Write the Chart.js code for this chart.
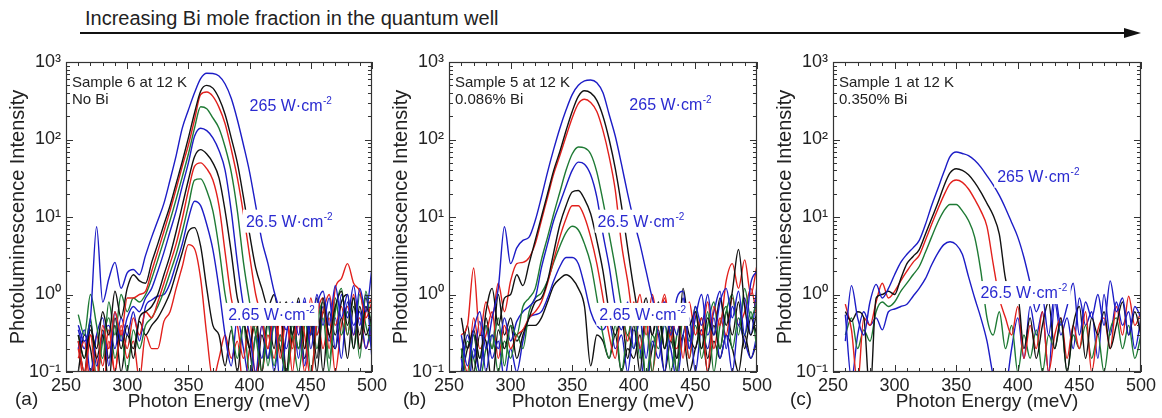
<!DOCTYPE html>
<html>
<head>
<meta charset="utf-8">
<script src="https://cdn.jsdelivr.net/npm/chart.js@4.4.0/dist/chart.umd.min.js"></script>
<style>
  html, body { margin: 0; padding: 0; background: #fff; }
  body { width: 1162px; height: 418px; position: relative; overflow: hidden; }
  canvas.panel { position: absolute; top: 40px; }
  #head { position: absolute; left: 0; top: 0; }
</style>
</head>
<body>
<svg id="head" width="1162" height="40">
  <text x="85" y="25" font-size="20" fill="#222" font-family="Liberation Sans, Arial, sans-serif">Increasing Bi mole fraction in the quantum well</text>
  <line x1="80" y1="33" x2="1128" y2="33" stroke="#111" stroke-width="2"/>
  <polygon points="1124,28 1141,33 1124,38" fill="#111"/>
</svg>
<canvas id="chartA" class="panel" style="left:0px" width="390" height="378"></canvas>
<canvas id="chartB" class="panel" style="left:383px" width="392" height="378"></canvas>
<canvas id="chartC" class="panel" style="left:767px" width="392" height="378"></canvas>
<script>
// photon energy grid (meV), shared by all spectra
const energy = [260, 265, 270, 275, 280, 285, 290, 295, 300, 305, 310, 315,
  320, 325, 330, 335, 340, 345, 350, 355, 360, 365, 370, 375,
  380, 385, 390, 395, 400, 405, 410, 415, 420, 425, 430, 435,
  440, 445, 450, 455, 460, 465, 470, 475, 480, 485, 490, 495, 500];

const yTickValues = [0.1, 1, 10, 100, 1000];
const yTickLabels = ['10⁻¹', '10⁰', '10¹', '10²', '10³'];

// (a) sample 6, no Bi - highest power first (blue, black, red, green, ...)
const a1 = [0.4, 0.25, 0.5, 7.5, 0.8, 1.6, 2.6, 1.2, 1.9, 2.1, 1.8, 3.2,
  5.5, 9, 15, 30, 62, 140, 240, 400, 610, 715, 710, 660,
  520, 340, 180, 85, 38, 14, 5, 2.5, 1.1, 0.6, 0.35, 0.8,
  0.3, 0.9, 0.2, 0.7, 1.1, 0.4, 1.3, 0.5, 1.0, 0.3, 1.2, 0.6, 2.2];
const a2 = [0.3, 0.15, 0.35, 0.2, 0.6, 0.3, 1.1, 0.5, 1.2, 1.8, 1.5, 1.4,
  2.6, 4.5, 8, 14, 27, 52, 105, 220, 420, 500, 460, 340,
  210, 105, 50, 18, 6, 2.2, 1.2, 0.7, 1.0, 0.5, 0.8, 0.3,
  0.9, 0.2, 0.6, 0.15, 0.9, 0.3, 0.7, 1.1, 0.4, 0.9, 0.2, 0.7, 0.4];
const a3 = [0.25, 0.1, 0.3, 0.07, 0.4, 0.2, 0.6, 0.3, 0.9, 0.9, 1.0, 1.1,
  2.0, 3.6, 6.5, 12, 23, 45, 85, 180, 380, 410, 360, 260,
  160, 75, 32, 11, 3.2, 1.0, 0.5, 0.2, 0.6, 0.15, 0.5, 0.2,
  0.7, 0.3, 0.08, 0.5, 0.9, 0.2, 1.2, 1.6, 2.5, 1.4, 1.1, 0.5, 0.8];
const a4 = [0.55, 0.3, 1.0, 0.4, 0.15, 0.8, 0.3, 1.0, 0.6, 0.9, 0.8, 1.0,
  1.6, 2.8, 5, 9, 17, 33, 65, 140, 265, 250, 190, 140,
  80, 38, 12, 2.6, 0.8, 0.3, 0.1, 0.4, 0.12, 0.3, 0.07, 0.4,
  0.2, 0.6, 0.1, 0.4, 0.8, 0.15, 0.6, 1.2, 0.3, 0.9, 0.15, 1.1, 0.3];
const a5 = [0.2, 0.35, 0.1, 0.3, 0.5, 0.12, 0.6, 0.25, 0.5, 0.7, 0.6, 0.9,
  1.2, 2.0, 3.5, 6.5, 12, 25, 50, 110, 140, 130, 105, 72,
  40, 12, 2.6, 0.7, 0.3, 0.1, 0.4, 0.15, 0.5, 0.07, 0.3, 0.6,
  0.15, 0.8, 0.3, 1.0, 0.4, 0.9, 0.2, 1.0, 0.5, 1.3, 0.4, 1.0, 0.15];
const a6 = [0.25, 0.1, 0.4, 0.15, 0.3, 0.07, 0.5, 0.2, 0.4, 0.15, 0.5, 0.6,
  0.7, 1.0, 1.8, 3.2, 6.5, 14, 30, 60, 74, 65, 50, 32,
  12, 3.5, 0.9, 0.5, 0.2, 0.6, 0.1, 0.5, 0.2, 0.8, 0.1, 0.5,
  0.2, 0.7, 0.3, 0.9, 0.1, 0.6, 0.3, 0.8, 1.0, 0.2, 0.7, 0.3, 0.5];
const a7 = [0.15, 0.25, 0.07, 0.3, 0.12, 0.35, 0.1, 0.4, 0.2, 0.5, 0.3, 0.6,
  0.5, 0.8, 1.4, 2.5, 4.5, 9.5, 22, 45, 50, 42, 30, 14,
  3.5, 0.9, 0.4, 0.15, 0.5, 0.08, 0.4, 0.2, 0.7, 0.25, 0.6, 0.1,
  0.5, 0.2, 0.9, 0.3, 0.6, 1.0, 0.4, 0.7, 0.3, 1.0, 0.2, 0.6, 0.9];
const a8 = [0.3, 0.15, 0.5, 0.08, 0.25, 0.5, 0.15, 0.3, 0.1, 0.35, 0.2, 0.4,
  0.5, 0.7, 1.1, 1.9, 3.3, 6.5, 14, 30, 31, 22, 12, 4,
  1.0, 0.4, 0.15, 0.4, 0.1, 0.3, 0.6, 0.12, 0.4, 0.2, 0.5, 0.3,
  0.1, 0.4, 0.7, 0.2, 0.5, 0.1, 0.9, 0.3, 0.6, 0.2, 1.0, 0.4, 0.2];
const a9 = [0.35, 0.2, 0.45, 0.12, 0.3, 0.4, 0.2, 0.5, 0.3, 0.6, 0.25, 0.7,
  0.85, 0.95, 1.0, 1.4, 2.5, 4.5, 9.5, 16, 14, 8, 3.8, 1.2,
  0.3, 0.12, 0.5, 0.2, 0.08, 0.3, 0.15, 0.45, 0.1, 0.3, 0.2, 0.5,
  0.8, 0.12, 0.5, 0.3, 0.7, 0.25, 0.5, 0.15, 0.8, 0.4, 0.6, 0.2, 0.5];
const a10 = [0.1, 0.3, 0.2, 0.06, 0.35, 0.15, 0.4, 0.1, 0.3, 0.2, 0.45, 0.3,
  0.4, 0.5, 0.7, 1.05, 1.9, 3.5, 6.5, 7.3, 4.2, 1.2, 0.4, 0.3,
  0.12, 0.35, 0.1, 0.4, 0.2, 0.06, 0.3, 0.15, 0.4, 0.2, 0.1, 0.3,
  0.5, 0.15, 0.4, 0.1, 0.6, 0.3, 0.2, 0.5, 0.15, 0.7, 0.3, 0.9, 0.3];
const a11 = [0.2, 0.08, 0.3, 0.15, 0.05, 0.25, 0.1, 0.35, 0.15, 0.25, 0.08, 0.3,
  0.2, 0.2, 0.45, 0.6, 1.2, 2.3, 4.4, 3.9, 1.6, 0.3, 0.08, 0.15,
  0.3, 0.15, 0.25, 0.06, 0.2, 0.4, 0.1, 0.3, 0.15, 0.5, 0.1, 0.25,
  0.4, 0.1, 0.35, 0.6, 0.2, 0.5, 0.1, 0.4, 0.7, 0.3, 0.5, 0.2, 0.4];

// (b) sample 5, 0.086% Bi
const b1 = [0.3, 0.12, 0.35, 0.6, 0.2, 0.5, 1.2, 7.5, 2.5, 4, 5, 5.5,
  9, 18, 38, 75, 140, 240, 380, 500, 570, 586, 540, 400,
  210, 110, 48, 20, 9, 4.5, 2.0, 0.9, 0.5, 0.8, 0.3, 0.9,
  1.1, 0.2, 0.7, 0.4, 1.0, 0.3, 0.8, 1.2, 0.5, 1.1, 0.3, 1.4, 2.0];
const b2 = [0.5, 0.2, 0.35, 0.15, 0.6, 1.2, 0.4, 0.9, 1.0, 1.8, 1.3, 2.5,
  5, 10, 20, 40, 70, 130, 230, 360, 425, 400, 320, 200,
  100, 42, 14, 4, 1.2, 0.5, 0.9, 0.3, 0.6, 0.2, 0.5, 0.15,
  1.2, 0.4, 0.6, 0.2, 0.5, 0.3, 0.9, 0.4, 1.1, 3.8, 0.7, 0.3, 0.6];
const b3 = [0.3, 0.4, 2.2, 0.3, 0.8, 0.5, 1.4, 0.6, 1.5, 2.5, 2.6, 3.0,
  4.5, 9, 18, 36, 62, 110, 190, 290, 330, 300, 230, 130,
  60, 22, 4.5, 1.5, 0.5, 1.0, 0.3, 1.0, 0.4, 0.9, 0.25, 0.6,
  0.15, 0.8, 0.3, 0.5, 0.1, 0.7, 0.4, 1.5, 2.5, 1.2, 2.8, 1.0, 2.4];
const b4 = [0.2, 0.08, 0.3, 0.15, 0.4, 0.2, 0.5, 0.12, 0.4, 0.3, 0.7, 0.9,
  1.2, 2.8, 5.5, 11, 21, 40, 65, 80, 78, 65, 38, 16,
  6, 2.2, 0.7, 0.3, 0.6, 0.15, 0.4, 0.1, 0.5, 0.2, 0.35, 0.1,
  0.5, 0.25, 0.7, 0.15, 0.4, 0.8, 0.2, 0.6, 1.0, 0.3, 1.2, 0.5, 0.8];
const b5 = [0.1, 0.3, 0.15, 0.45, 0.1, 0.3, 0.2, 0.5, 0.25, 0.45, 0.6, 0.7,
  0.9, 2.2, 4.5, 9, 15, 25, 40, 51, 48, 35, 18, 6,
  2.3, 0.7, 0.35, 0.8, 0.2, 0.5, 0.15, 0.6, 0.3, 0.1, 0.5, 0.3,
  0.9, 0.2, 0.5, 1.0, 0.3, 0.6, 1.1, 0.2, 0.7, 0.4, 0.9, 0.3, 1.3];
const b6 = [0.15, 0.4, 0.1, 0.3, 0.25, 0.07, 0.35, 0.2, 0.4, 0.15, 0.3, 0.5,
  0.8, 0.9, 1.5, 3.5, 8, 14, 21, 22, 17, 11, 5, 2,
  0.6, 0.3, 0.5, 0.15, 0.4, 0.1, 0.6, 0.3, 0.8, 0.2, 0.4, 0.1,
  0.6, 0.3, 0.2, 0.5, 0.15, 0.4, 0.2, 0.6, 0.3, 0.8, 0.2, 0.5, 0.3];
const b7 = [0.2, 0.1, 0.5, 0.2, 0.3, 0.6, 0.15, 0.4, 0.2, 0.3, 0.35, 0.5,
  0.6, 0.8, 1.4, 2.8, 5.5, 9.5, 14, 14, 10, 5.5, 2.5, 0.9,
  0.3, 0.15, 0.6, 0.25, 0.8, 0.2, 0.5, 0.1, 0.4, 1.0, 0.3, 0.2,
  0.5, 0.15, 0.6, 0.3, 0.8, 0.2, 0.5, 0.3, 0.9, 0.4, 0.6, 1.2, 0.5];
const b8 = [0.1, 0.25, 0.15, 0.08, 0.2, 0.3, 0.1, 0.25, 0.15, 0.3, 0.2, 0.6,
  0.9, 1.05, 1.5, 2.6, 4.2, 6.3, 7.6, 6.8, 4.5, 2.5, 0.9, 0.3,
  0.15, 0.4, 0.1, 0.3, 0.2, 0.5, 0.08, 0.3, 0.2, 0.45, 0.1, 0.3,
  0.5, 0.15, 0.4, 0.2, 0.6, 0.1, 0.4, 0.7, 0.2, 0.5, 0.3, 0.6, 0.2];
const b9 = [0.15, 0.05, 0.2, 0.1, 0.4, 0.15, 0.25, 0.08, 0.2, 0.1, 0.25, 0.5,
  0.55, 0.6, 0.9, 1.5, 2.3, 3.0, 3.0, 2.5, 1.3, 0.6, 0.4, 0.35,
  0.45, 0.2, 0.3, 0.1, 0.35, 0.2, 0.05, 0.25, 0.15, 0.4, 0.2, 0.08,
  0.3, 0.5, 0.1, 0.35, 0.2, 0.5, 0.15, 0.3, 0.1, 0.4, 0.25, 0.15, 0.3];
const b10 = [0.08, 0.2, 0.3, 0.1, 0.5, 0.2, 1.0, 0.3, 0.5, 0.25, 0.35, 0.4,
  0.4, 0.5, 0.8, 1.3, 1.6, 1.8, 1.6, 1.2, 0.7, 0.12, 0.3, 0.25,
  0.15, 0.3, 0.1, 0.2, 0.15, 0.3, 0.08, 0.2, 0.35, 0.1, 0.25, 0.15,
  0.3, 0.1, 0.2, 0.35, 0.1, 0.25, 0.15, 0.3, 0.2, 0.1, 0.3, 0.15, 0.25];

// (c) sample 1, 0.350% Bi
const c1 = [0.25, 1.3, 0.5, 0.3, 0.8, 1.35, 0.9, 1.2, 1.8, 2.6, 3.3, 4,
  5, 8, 14, 23, 38, 60, 69, 66, 62, 54, 44, 34,
  26, 19, 13, 8.5, 5.5, 3, 1.4, 0.6, 0.9, 0.3, 1.0, 0.4,
  0.7, 1.4, 0.3, 0.8, 0.5, 1.0, 0.4, 1.5, 0.6, 0.9, 0.3, 0.7, 0.5];
const c2 = [0.6, 0.45, 0.6, 0.5, 0.05, 0.9, 1.0, 1.1, 1.0, 1.6, 2.5, 3.1,
  3.8, 6, 9.5, 15, 25, 37, 42, 40, 35, 28, 21, 15,
  10.5, 6, 1.6, 0.9, 0.95, 0.2, 0.5, 0.15, 0.4, 0.8, 0.2, 0.5,
  0.1, 0.4, 0.7, 0.15, 0.5, 0.3, 0.6, 0.2, 0.4, 0.8, 0.3, 0.6, 0.3];
const c3 = [0.75, 0.35, 0.07, 0.5, 0.4, 0.8, 1.4, 0.9, 1.1, 1.5, 2.0, 2.6,
  3.2, 5, 8, 12.5, 19, 27, 30, 28, 23, 17, 12, 7.5,
  2.5, 0.9, 0.5, 0.3, 0.7, 0.15, 0.4, 0.2, 0.6, 0.1, 0.3, 0.5,
  0.15, 0.4, 0.2, 0.6, 0.1, 0.35, 0.5, 0.2, 0.7, 0.3, 0.95, 0.4, 0.6];
const c4 = [0.3, 0.5, 0.2, 0.35, 0.25, 0.6, 0.8, 0.7, 0.8, 1.1, 1.4, 1.8,
  2.3, 3.5, 5.5, 8.5, 12, 14.5, 14.5, 12, 9, 5.5, 2, 0.5,
  0.3, 0.6, 0.2, 0.4, 0.1, 0.3, 0.15, 0.35, 0.1, 0.3, 0.2, 0.45,
  0.1, 0.3, 0.2, 0.4, 0.15, 0.3, 0.1, 0.35, 0.5, 0.2, 0.4, 0.15, 0.3];
const c5 = [0.55, 0.08, 0.3, 0.6, 0.4, 0.5, 0.35, 0.6, 0.65, 0.7, 0.75, 0.95,
  1.2, 1.6, 2.4, 3.4, 4.4, 4.8, 4.4, 3.3, 1.7, 0.9, 0.5, 0.25,
  0.09, 0.05, 0.06, 0.2, 0.5, 0.15, 0.7, 0.3, 0.6, 0.1, 0.8, 0.3,
  0.5, 0.2, 0.9, 0.4, 0.6, 0.15, 1.0, 0.3, 0.8, 0.4, 0.6, 0.2, 0.5];

const FONT = '"Liberation Sans", Arial, sans-serif';
const lineColors = ['#1c1cc6', '#111111', '#e2201c', '#1e7a34'];
const labelBlue = '#2a2ad0';

Chart.defaults.font.family = FONT;

function toPoints(vals) {
  return vals.map((v, i) => ({ x: energy[i], y: v }));
}

// box round the plot area and inward ticks on all four sides
const framePlugin = {
  id: 'frame',
  afterDatasetsDraw(chart) {
    const { ctx, chartArea: area, scales: { x, y } } = chart;
    ctx.save();
    ctx.strokeStyle = '#333';
    ctx.lineWidth = 1;
    ctx.beginPath();
    for (let e = 250; e <= 500; e += 10) {
      const px = Math.round(x.getPixelForValue(e)) + 0.5;
      const len = e % 50 === 0 ? 7 : 4;
      ctx.moveTo(px, area.bottom); ctx.lineTo(px, area.bottom - len);
      ctx.moveTo(px, area.top); ctx.lineTo(px, area.top + len);
    }
    yTickValues.forEach((d) => {
      for (let m = 1; m <= 9; m++) {
        const v = d * m;
        if (v > 1000) break;
        const py = Math.round(y.getPixelForValue(v)) + 0.5;
        const len = m === 1 ? 7 : 4;
        ctx.moveTo(area.left, py); ctx.lineTo(area.left + len, py);
        ctx.moveTo(area.right, py); ctx.lineTo(area.right - len, py);
      }
    });
    ctx.stroke();
    ctx.lineWidth = 1.2;
    ctx.strokeRect(Math.round(area.left) + 0.5, Math.round(area.top) + 0.5,
      Math.round(area.width) - 1, Math.round(area.height) - 1);
    ctx.restore();
  }
};

function textPlugin(p) {
  return {
    id: 'panelText',
    afterDraw(chart) {
      const { ctx, chartArea: area, scales: { x, y } } = chart;
      ctx.save();
      ctx.textBaseline = 'alphabetic';
      ctx.fillStyle = '#222';
      ctx.font = '15px ' + FONT;
      ctx.fillText(p.sample[0], area.left + 6, area.top + 25);
      ctx.fillText(p.sample[1], area.left + 6, area.top + 42);
      p.powers.forEach(([e, v, txt]) => {
        const px = x.getPixelForValue(e);
        const py = y.getPixelForValue(v);
        ctx.font = '16px ' + FONT;
        const w1 = ctx.measureText(txt).width;
        ctx.font = '10px ' + FONT;
        const w2 = ctx.measureText('-2').width;
        ctx.fillStyle = '#fff';
        ctx.fillRect(px - 3, py - 17, w1 + w2 + 7, 23);
        ctx.fillStyle = labelBlue;
        ctx.font = '16px ' + FONT;
        ctx.fillText(txt, px, py);
        ctx.font = '10px ' + FONT;
        ctx.fillText('-2', px + w1 + 0.5, py - 7);
      });
      ctx.fillStyle = '#222';
      ctx.font = '19px ' + FONT;
      ctx.fillText(p.letter, p.letterX, chart.height - 13);
      ctx.restore();
    }
  };
}

function makePanel(p) {
  return new Chart(document.getElementById(p.id), {
    type: 'line',
    data: {
      datasets: p.series.map((vals, k) => ({
        data: toPoints(vals),
        borderColor: lineColors[k % 4],
        borderWidth: 1.4,
        pointRadius: 0,
        cubicInterpolationMode: 'monotone',
        fill: false,
      })),
    },
    options: {
      responsive: false,
      animation: false,
      devicePixelRatio: 1,
      layout: { padding: { left: 0, right: 17, top: 22, bottom: 0 } },
      plugins: { legend: { display: false }, tooltip: { enabled: false } },
      scales: {
        x: {
          type: 'linear',
          min: 250,
          max: 500,
          ticks: { stepSize: 50, maxRotation: 0, autoSkip: false, padding: 3,
            color: '#222', font: { size: 18 } },
          grid: { display: false, drawTicks: false },
          border: { display: false },
          title: { display: true, text: 'Photon Energy (meV)', color: '#222',
            font: { size: 19 }, padding: { top: 0, bottom: 5 } },
          afterFit: (s) => { s.height = 46; },
        },
        y: {
          type: 'logarithmic',
          min: 0.1,
          max: 1000,
          afterBuildTicks: (s) => { s.ticks = yTickValues.map((v) => ({ value: v })); },
          ticks: { callback: (v, i) => yTickLabels[i], padding: 5,
            color: '#222', font: { size: 18 } },
          grid: { display: false, drawTicks: false },
          border: { display: false },
          title: { display: true, text: 'Photoluminescence Intensity', color: '#222',
            font: { size: 20 }, padding: { top: 6, bottom: 0 } },
          afterFit: (s) => { s.width = 66; },
        },
      },
    },
    plugins: [framePlugin, textPlugin(p)],
  });
}

makePanel({
  id: 'chartA', letter: '(a)', letterX: 15,
  sample: ['Sample 6 at 12 K', 'No Bi'],
  powers: [[400, 230, '265 W·cm'], [397, 7.5, '26.5 W·cm'], [382.5, 0.47, '2.65 W·cm']],
  series: [a1, a2, a3, a4, a5, a6, a7, a8, a9, a10, a11],
});
makePanel({
  id: 'chartB', letter: '(b)', letterX: 20,
  sample: ['Sample 5 at 12 K', '0.086% Bi'],
  powers: [[396.4, 240, '265 W·cm'], [370.6, 7.5, '26.5 W·cm'], [372, 0.47, '2.65 W·cm']],
  series: [b1, b2, b3, b4, b5, b6, b7, b8, b9, b10],
});
makePanel({
  id: 'chartC', letter: '(c)', letterX: 23,
  sample: ['Sample 1 at 12 K', '0.350% Bi'],
  powers: [[383.3, 28.5, '265 W·cm'], [369.7, 0.9, '26.5 W·cm']],
  series: [c1, c2, c3, c4, c5],
});
</script>
</body>
</html>
